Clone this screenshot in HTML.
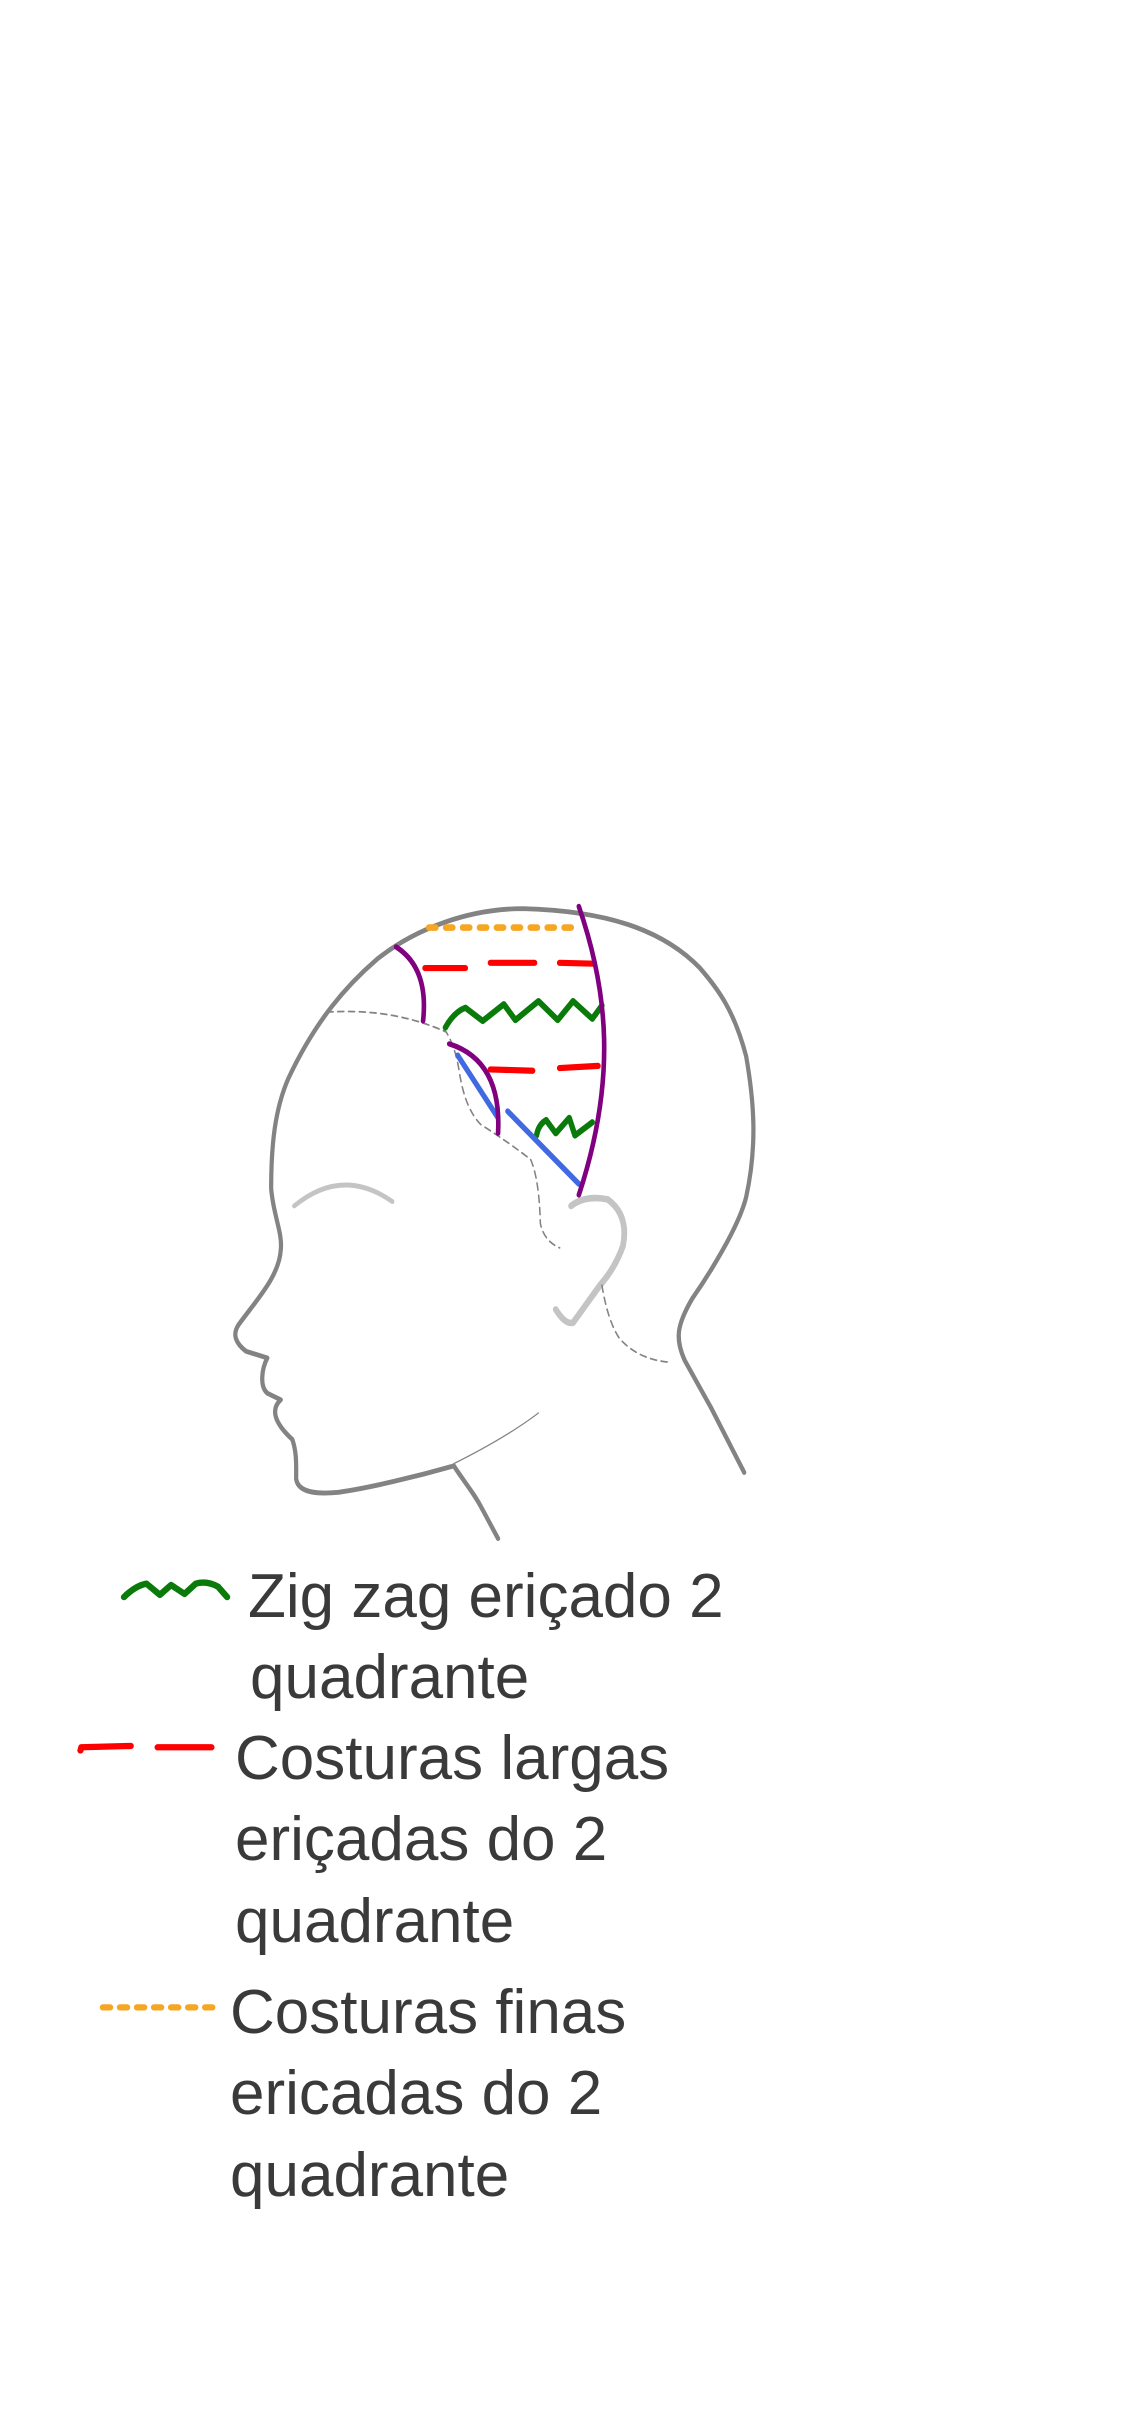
<!DOCTYPE html>
<html><head><meta charset="utf-8"><style>
html,body{margin:0;padding:0;background:#fff;}
svg{display:block;}
text{font-family:"Liberation Sans",sans-serif;fill:#3a3a3a;}
</style></head><body>
<svg width="1125" height="2436" viewBox="0 0 1125 2436">
<g transform="translate(200,880) scale(0.3846,0.4405)" fill="none" stroke-linecap="round" stroke-linejoin="round">
  <path stroke="#838383" stroke-width="11" d="M1415,1345 L1330,1200 L1260,1090 C1235,1040 1240,1010 1280,950 C1320,900 1400,790 1420,720 C1450,600 1440,500 1420,400 C1390,300 1350,250 1300,200 C1200,110 1050,70 840,65 C700,65 560,110 460,180 C380,240 300,320 230,450 C195,520 185,600 185,700 C190,760 215,800 210,840 C205,900 150,950 100,1010 C85,1030 90,1050 120,1070 L175,1085 C160,1110 155,1150 175,1165 L210,1180 C185,1200 190,1230 240,1270 C252,1300 250,1330 250,1360 C255,1390 300,1395 360,1390 C440,1380 560,1355 660,1330 C690,1370 715,1395 735,1430 L775,1495"/>
  <path stroke="#838383" stroke-width="3" d="M660,1325 C740,1290 820,1250 880,1210"/>
  <path stroke="#c4c4c4" stroke-width="11" d="M245,740 Q370,650 500,730"/>
  <path stroke="#c4c4c4" stroke-width="15" d="M965,740 Q1000,715 1060,725 Q1115,760 1100,830 Q1080,880 1040,920 L970,1005 Q950,1010 925,975"/>
  <path stroke="#838383" stroke-width="4" stroke-dasharray="16,12" d="M330,300 Q500,290 640,345 Q665,380 675,440 Q690,520 730,555 Q810,600 860,635 Q882,680 885,780 Q895,820 935,835"/>
  <path stroke="#838383" stroke-width="4" stroke-dasharray="16,12" d="M1045,920 Q1060,1000 1090,1040 Q1140,1090 1225,1095"/>
  <path stroke="#f5a623" stroke-width="15" stroke-dasharray="18,26" d="M595,108 L990,108"/>
  <path stroke="#ff0000" stroke-width="14" d="M585,200 L690,200 M755,188 L870,188 M935,188 L1025,190"/>
  <path stroke="#ff0000" stroke-width="14" d="M755,430 L865,433 M935,427 L1035,422"/>
  <path stroke="#0a7a0a" stroke-width="14" d="M638,335 Q660,300 690,290 L735,320 L790,282 L820,318 L880,275 L930,318 L970,275 L1020,315 L1045,285"/>
  <path stroke="#0a7a0a" stroke-width="14" d="M875,580 Q880,555 900,545 L925,575 L960,540 L975,580 L1020,550"/>
  <path stroke="#4169e1" stroke-width="13" d="M670,398 L775,540"/>
  <path stroke="#4169e1" stroke-width="13" d="M800,525 L985,690"/>
  <path stroke="#800080" stroke-width="12" d="M985,60 C1060,250 1085,450 985,715"/>
  <path stroke="#800080" stroke-width="12" d="M510,152 Q595,200 580,320"/>
  <path stroke="#800080" stroke-width="12" d="M648,372 Q785,410 775,575"/>
</g>
<g transform="translate(50,1550) scale(0.4484)" fill="none" stroke-linecap="round" stroke-linejoin="round">
  <path stroke="#0a7a0a" stroke-width="14" d="M165,105 Q190,80 215,75 L245,100 L270,78 L300,98 L325,75 Q350,68 375,82 L395,105"/>
  <path stroke="#ff0000" stroke-width="14" d="M68,447 L70,440 L180,437 M240,440 L360,440"/>
  <path stroke="#f5a623" stroke-width="14" stroke-dasharray="16,22" d="M118,1020 L370,1020"/>
</g>
<g font-size="62">
  <text><tspan x="248" y="1617">Zig zag eriçado 2</tspan><tspan x="250" y="1698">quadrante</tspan></text>
  <text><tspan x="235" y="1779">Costuras largas</tspan><tspan x="235" y="1860">eriçadas do 2</tspan><tspan x="235" y="1942">quadrante</tspan></text>
  <text><tspan x="230" y="2033">Costuras finas</tspan><tspan x="230" y="2114">ericadas do 2</tspan><tspan x="230" y="2196">quadrante</tspan></text>
</g>
</svg>
</body></html>
